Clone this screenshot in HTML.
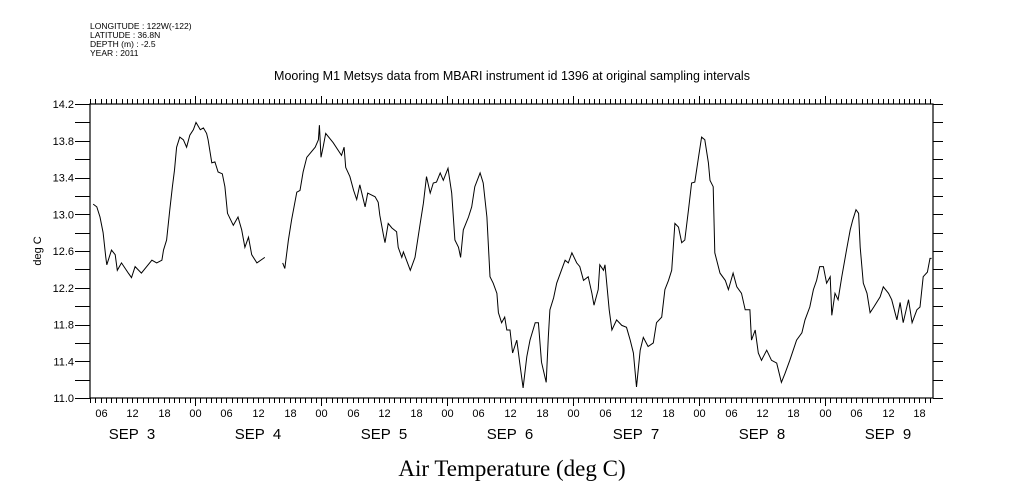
<!DOCTYPE html>
<html><head><meta charset="utf-8"><style>
body{margin:0;background:#fff;}
svg{display:block;}
text{font-family:"Liberation Sans",sans-serif;fill:#000;}
</style></head><body>
<svg id="chart" width="1009" height="504" viewBox="0 0 1009 504">
<g font-size="8.5">
<text x="90" y="29">LONGITUDE : 122W(-122)</text>
<text x="90" y="38">LATITUDE : 36.8N</text>
<text x="90" y="47">DEPTH (m) : -2.5</text>
<text x="90" y="56">YEAR : 2011</text>
</g>
<text x="512" y="80" font-size="12.5" text-anchor="middle">Mooring M1 Metsys data from MBARI instrument id 1396 at original sampling intervals</text>
<text transform="translate(41,251) rotate(-90)" font-size="11" text-anchor="middle">deg C</text>
<text x="512" y="476" font-size="23" text-anchor="middle" style="font-family:'Liberation Serif',serif">Air Temperature (deg C)</text>
<g id="axes"></g>
<g id="series"></g>
</svg>
<script>
// hours since Sep 3 04:00, 2011
const hours = [0.6,1.3,1.9,2.5,3.0,3.2,4.1,4.8,5.2,6.0,7.3,7.9,8.6,9.8,10.8,11.8,12.7,13.7,14.0,14.6,15.2,15.7,16.1,16.5,17.1,17.8,18.4,19.0,19.7,20.2,21.0,21.6,22.2,22.5,23.2,23.8,24.4,25.2,25.7,26.2,27.3,28.2,28.9,29.5,30.2,30.8,31.8,33.3,
35.0,
36.7,37.1,37.8,38.4,39.4,40.0,40.6,41.3,42.9,43.5,43.7,44.0,44.4,44.9,46.3,47.9,48.4,48.7,49.5,50.2,50.8,51.4,52.4,52.9,54.3,54.9,55.2,55.9,56.2,56.8,57.5,58.4,58.7,59.4,59.7,61.0,61.9,62.9,63.5,64.1,64.8,65.4,66.0,66.7,67.3,68.2,68.9,69.5,70.2,70.6,71.1,72.1,72.7,73.3,74.3,74.9,75.6,76.2,76.8,77.5,77.8,78.4,79.0,79.4,80.0,80.5,81.3,81.9,82.5,83.2,83.8,84.8,85.4,86.0,86.9,87.3,87.6,88.3,88.9,89.8,90.5,91.1,91.8,92.7,93.3,94.0,94.9,95.6,96.0,96.8,97.1,97.8,98.1,98.9,99.4,100.3,101.3,102.2,102.9,103.5,104.1,104.8,105.4,106.3,107.3,107.9,108.9,109.5,110.2,110.8,111.4,112.1,112.7,113.3,114.0,114.6,115.2,115.9,116.5,117.1,117.8,118.1,118.7,119.0,120.0,121.0,121.6,122.5,123.2,124.1,124.8,125.7,126.0,126.7,127.3,127.9,128.9,129.8,130.8,131.7,132.4,133.3,134.6,135.6,136.2,137.1,137.8,138.4,139.0,139.7,140.3,141.0,141.3,141.9,142.5,143.2,144.1,144.8,145.3,145.9,146.4,146.7,147.3,148.0,148.6,149.3,150.5,151.1,152.1,152.7,153.7,154.3,154.9,155.9,156.6,157.5,158.1,158.7,159.5,160.0,160.3];
const temps = [13.11,13.08,12.97,12.80,12.53,12.45,12.61,12.56,12.39,12.47,12.36,12.31,12.43,12.36,12.43,12.50,12.47,12.50,12.61,12.72,13.05,13.30,13.48,13.73,13.84,13.81,13.73,13.86,13.92,14.00,13.92,13.94,13.88,13.81,13.56,13.57,13.46,13.44,13.30,13.01,12.88,12.97,12.83,12.64,12.75,12.56,12.47,12.53,
null,
12.47,12.41,12.72,12.94,13.24,13.26,13.46,13.62,13.73,13.81,13.97,13.62,13.73,13.88,13.78,13.64,13.73,13.51,13.41,13.26,13.16,13.32,13.08,13.23,13.19,13.13,12.99,12.77,12.69,12.90,12.85,12.81,12.64,12.53,12.59,12.39,12.53,12.90,13.12,13.41,13.23,13.34,13.35,13.45,13.37,13.50,13.23,12.72,12.64,12.53,12.83,12.97,13.08,13.30,13.45,13.34,12.97,12.32,12.25,12.14,11.93,11.82,11.88,11.74,11.74,11.49,11.63,11.36,11.11,11.45,11.63,11.82,11.82,11.39,11.17,11.66,11.96,12.09,12.25,12.39,12.50,12.47,12.58,12.47,12.43,12.28,12.32,12.14,12.01,12.18,12.45,12.39,12.45,11.96,11.74,11.85,11.79,11.77,11.63,11.49,11.12,11.52,11.66,11.56,11.60,11.82,11.88,12.18,12.28,12.39,12.90,12.86,12.69,12.72,13.05,13.34,13.35,13.62,13.84,13.81,13.56,13.37,13.30,12.58,12.36,12.28,12.18,12.36,12.21,12.14,11.96,11.96,11.63,11.74,11.49,11.41,11.52,11.41,11.38,11.17,11.27,11.41,11.63,11.71,11.85,11.99,12.18,12.28,12.43,12.43,12.25,12.32,11.90,12.14,12.07,12.32,12.61,12.83,12.94,13.05,13.01,12.64,12.25,12.14,11.93,11.99,12.10,12.21,12.14,12.07,11.85,12.04,11.82,12.07,11.82,11.96,11.99,12.32,12.37,12.52,12.52];
const yTickValues = [11.0,11.4,11.8,12.2,12.6,13.0,13.4,13.8,14.2];
const yTickLabels = ["11.0","11.4","11.8","12.2","12.6","13.0","13.4","13.8","14.2"];
const dayLabels = ["SEP  3","SEP  4","SEP  5","SEP  6","SEP  7","SEP  8","SEP  9"];
const hourLabels = ["00","06","12","18"];

const X0=90,X1=933,Y0=104,Y1=398;
const T_MAX=(X1-X0)/5.25, V_MIN=11.0, V_MAX=14.2;
const START_HOUR=4;
function xScale(t){return X0+(t/T_MAX)*(X1-X0);}
function yScale(v){return Y1-(v-V_MIN)/(V_MAX-V_MIN)*(Y1-Y0);}
const NS="http://www.w3.org/2000/svg";
function mk(tag,attrs,parent){const e=document.createElementNS(NS,tag);for(const k in attrs)e.setAttribute(k,attrs[k]);parent.appendChild(e);return e;}
const axes=document.getElementById('axes');
const frame=mk('rect',{x:X0,y:Y0,width:X1-X0,height:Y1-Y0,fill:'none',stroke:'#000','stroke-width':1.2},axes);


let tp='';
for(let h=0;h<=Math.floor(T_MAX);h++){
  const x=Math.round(xScale(h))+0.5;
  const clock=(h+START_HOUR)%24;
  const len=clock===0?8:5;
  tp+=`M${x},${Y1}v${len}M${x},${Y0}v${-len}`;
  if(clock%6===0){
    const t=mk('text',{x:x,y:417,'font-size':11,'text-anchor':'middle'},axes);
    
    
    t.textContent=hourLabels[clock/6];
  }
}
const xt=mk('path',{d:tp,stroke:'#000','stroke-width':1,fill:'none'},axes);


dayLabels.forEach((lab,i)=>{
  const noon=i*24+12-START_HOUR;
  const t=mk('text',{x:xScale(noon),y:439,'font-size':15,'text-anchor':'middle'},axes);
  
  
  t.style.whiteSpace='pre';
  t.textContent=lab;
});
let yp='';
for(let v=11.0;v<=14.21;v+=0.2){
  const y=Math.round(yScale(v))+0.5;
  yp+=`M${X0},${y}h-15M${X1},${y}h10`;
}
const ytk=mk('path',{d:yp,stroke:'#000','stroke-width':1,fill:'none'},axes);


yTickValues.forEach((v,i)=>{
  const t=mk('text',{x:74,y:yScale(v)+4,'font-size':11,'text-anchor':'end'},axes);
  
  
  t.textContent=yTickLabels[i];
});
let d='',pen=false;
for(let i=0;i<hours.length;i++){
  if(temps[i]===null){pen=false;continue;}
  d+=(pen?'L':'M')+xScale(hours[i]).toFixed(1)+','+yScale(temps[i]).toFixed(1);
  pen=true;
}
const line=mk('path',{d:d,stroke:'#000','stroke-width':1,fill:'none'},document.getElementById('series'));


</script>
</body></html>
